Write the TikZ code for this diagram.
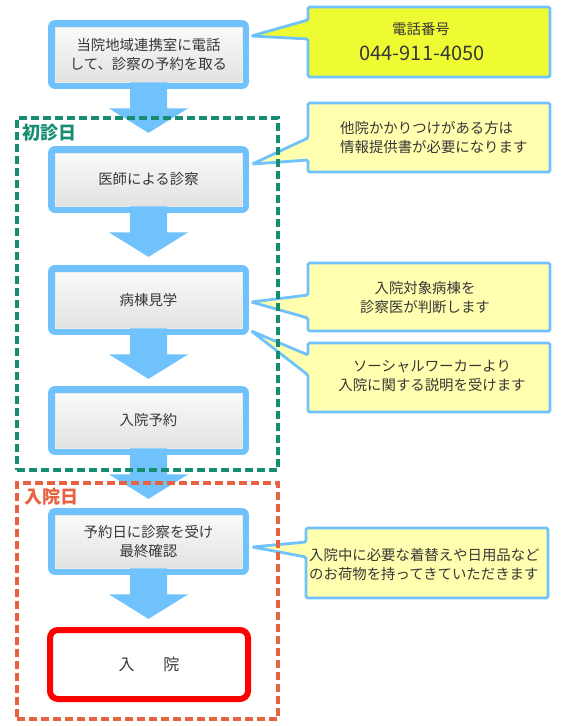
\documentclass[tikz,border=0pt]{standalone}
\usepackage{fontspec}
\setmainfont{Noto Sans CJK JP}
\usetikzlibrary{calc,backgrounds}
\definecolor{boxblue}{RGB}{112,194,252}
\definecolor{gtop}{RGB}{250,250,250}
\definecolor{gbot}{RGB}{226,226,226}
\definecolor{gline}{RGB}{236,236,236}
\definecolor{ybright}{RGB}{238,250,50}
\definecolor{ypale}{RGB}{255,255,175}
\definecolor{grn}{RGB}{22,140,112}
\definecolor{org}{RGB}{230,98,64}
\definecolor{redb}{RGB}{255,0,0}
\definecolor{txt}{RGB}{55,55,55}
\newcommand\bodyfont{\fontsize{14.4}{19}\selectfont}
\newcommand\blockdown[1]{\fill[boxblue] (#1.south) ++(-18.5,0) -- ++(0,26) -- ++(-21,0) -- ++(39.5,24.5) -- ++(39.5,-24.5) -- ++(-21,0) -- ++(0,-26) -- cycle;}
\tikzset{
  stepbox/.style={minimum width=187pt, minimum height=55pt, inner sep=0pt, align=center,
    font=\bodyfont, text=txt, top color=gtop, bottom color=gbot, draw=gline, line width=0.8pt,
    preaction={draw=boxblue, fill=boxblue, line width=14pt, line join=round}},
  endbox/.style={minimum width=198pt, minimum height=69pt, inner sep=0pt, draw=redb, fill=white,
    line width=6pt, rounded corners=8pt, font=\fontsize{16}{20}\selectfont, text=txt},
  cframe/.style={minimum width=242pt, inner sep=0pt, outer sep=0pt},
  cout/.style={draw=boxblue, line width=2.8pt, line join=miter, rounded corners=1.5pt},
  ctext/.style={font=\bodyfont, text=txt, inner sep=0pt},
  frame/.style={minimum width=261pt, inner sep=0pt, outer sep=0pt, line width=3.6pt, dash pattern=on 8pt off 4pt},
  lbl/.style={font=\fontsize{18}{22}\selectfont\bfseries, inner sep=0pt, anchor=west}
}
\begin{document}
\begin{tikzpicture}[x=1pt,y=-1pt]
\useasboundingbox (0,0) rectangle (563,726);
% flow boxes
\node[stepbox] (b1) at (148.5,54.5) {当院地域連携室に電話\\して、診察の予約を取る};
\node[stepbox, minimum height=53pt] (b2) at (148.5,179.5) {医師による診察};
\node[stepbox, minimum height=56pt] (b3) at (148.5,300) {病棟見学};
\node[stepbox] (b4) at (148.5,420.5) {入院予約};
\node[stepbox, minimum height=53pt] (b5) at (148.5,541.5) {予約日に診察を受け\\最終確認};
\node[endbox] (b6) at (149,664.5) {入\hspace{29pt}院};
% callout frames
\node[cframe, minimum height=70pt] (c1) at (429,42) {};
\node[cframe, minimum height=69pt] (c2) at (429,137.5) {};
\node[cframe, minimum height=68pt] (c3) at (429,297) {};
\node[cframe, minimum height=69pt] (c4) at (429,377.5) {};
\node[cframe, minimum height=70pt] (c5) at (427,563) {};
\begin{pgfonlayer}{background}
\fill[white] (0,0) rectangle (563,726);
\draw[cout, fill=ybright] (c1.north west) -- (c1.north east) -- (c1.south east) -- (c1.south west) -- ($(c1.north west)+(0,32)$) -- ($(b1.east)+(9,-18.5)$) -- ($(c1.north west)+(0,13)$) -- cycle;
\draw[cout, fill=ypale] (c2.north west) -- (c2.north east) -- (c2.south east) -- (c2.south west) -- ($(c2.north west)+(0,57)$) -- ($(b2.east)+(10,-15.5)$) -- ($(c2.north west)+(0,35)$) -- cycle;
\draw[cout, fill=ypale] (c3.north west) -- (c3.north east) -- (c3.south east) -- (c3.south west) -- ($(c3.north west)+(0,55)$) -- ($(b3.east)+(9,2)$) -- ($(c3.north west)+(0,32)$) -- cycle;
\draw[cout, fill=ypale] (c4.north west) -- (c4.north east) -- (c4.south east) -- (c4.south west) -- ($(c4.north west)+(0,32)$) -- ($(b3.east)+(9,31)$) -- ($(c4.north west)+(0,12)$) -- cycle;
\draw[cout, fill=ypale] (c5.north west) -- (c5.north east) -- (c5.south east) -- (c5.south west) -- ($(c5.north west)+(0,29)$) -- ($(b5.east)+(10,5.5)$) -- ($(c5.north west)+(0,14)$) -- cycle;
\end{pgfonlayer}
% callout texts
\node[ctext] (t1a) at (421,29) {電話番号};
\node[ctext, font=\fontsize{20}{24}\selectfont] (t1b) at (422,53) {044-911-4050};
\node[ctext, anchor=west, align=left] (t2) at (340,137.5) {他院かかりつけがある方は\\情報提供書が必要になります};
\node[ctext, align=center] (t3) at (425,298) {入院対象病棟を\\診察医が判断します};
\node[ctext, align=center] (t4) at (432,376) {ソーシャルワーカーより\\入院に関する説明を受けます};
\node[ctext, anchor=west, align=left] (t5) at (309,564.5) {入院中に必要な着替えや日用品など\\のお荷物を持ってきていただきます};
% arrows
\blockdown{b1}
\blockdown{b2}
\blockdown{b3}
\blockdown{b4}
\blockdown{b5}
% dashed frames
\node[frame, draw=grn, minimum height=352pt] (g) at (147.5,294) {};
\node[frame, draw=org, minimum height=236pt] (o) at (147.5,601) {};
\node[lbl, text=grn] (gl) at ($(g.north west)+(5,15)$) {初診日};
\node[lbl, text=org] (ol) at ($(o.north west)+(7,14)$) {入院日};
\end{tikzpicture}
\end{document}
